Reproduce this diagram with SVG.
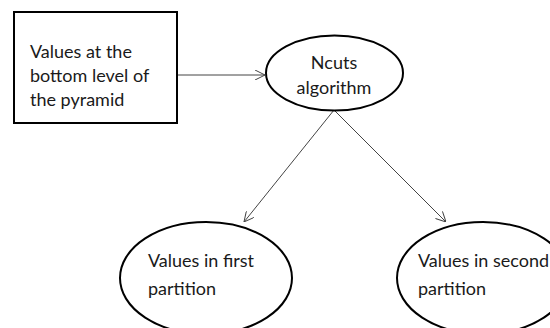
<svg xmlns="http://www.w3.org/2000/svg" width="550" height="328" viewBox="0 0 550 328">
  <style>
    .shape { fill: #ffffff; stroke: #000000; stroke-width: 2; }
    .label { font-family: Lato, "Open Sans", "Liberation Sans", sans-serif; font-size: 18px; fill: #1a1a1a; }
    .conn { stroke: #444444; stroke-width: 1; fill: none; marker-end: url(#arrow); }
  </style>
  <defs>
    <marker id="arrow" viewBox="0 0 10 10" refX="10" refY="5" markerWidth="10" markerHeight="10" markerUnits="userSpaceOnUse" orient="auto">
      <path d="M0,0 L10,5 L0,10" fill="none" stroke="#444444" stroke-width="1"/>
    </marker>
  </defs>
  <rect width="550" height="328" fill="#ffffff"/>
  <g id="connectors">
    <line class="conn" x1="178" y1="75" x2="265" y2="75"/>
    <line class="conn" x1="334" y1="110" x2="244" y2="222"/>
    <line class="conn" x1="334" y1="110" x2="446" y2="222"/>
  </g>
  <g id="node-bottom">
    <rect class="shape" x="14" y="12" width="163" height="111"/>
    <text class="label" x="30" y="58">Values at the</text>
    <text class="label" x="30" y="82">bottom level of</text>
    <text class="label" x="30" y="106">the pyramid</text>
  </g>
  <g id="node-ncuts">
    <ellipse class="shape" cx="334.5" cy="73" rx="68.5" ry="37.5"/>
    <text class="label" x="334" y="69" text-anchor="middle">Ncuts</text>
    <text class="label" x="334" y="94" text-anchor="middle">algorithm</text>
  </g>
  <g id="node-first">
    <ellipse class="shape" cx="206" cy="278" rx="86" ry="56"/>
    <text class="label" x="148" y="267">Values in first</text>
    <text class="label" x="148" y="295">partition</text>
  </g>
  <g id="node-second">
    <ellipse class="shape" cx="483" cy="278" rx="86" ry="56"/>
    <text class="label" x="418" y="267">Values in second</text>
    <text class="label" x="418" y="295">partition</text>
  </g>
</svg>
